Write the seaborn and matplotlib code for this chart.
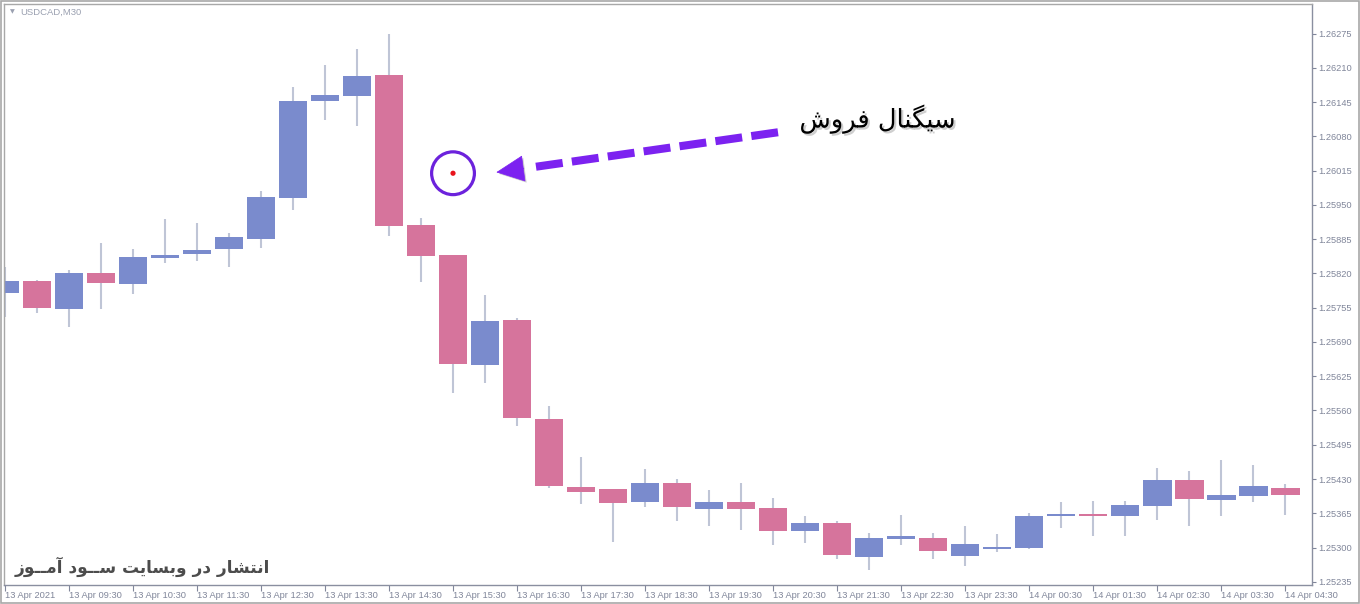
import numpy as np
import pandas as pd
import matplotlib
matplotlib.use("Agg")
import matplotlib.pyplot as plt
import seaborn as sns
from matplotlib import patheffects, transforms
from matplotlib.patches import Rectangle

# ---------------- data ----------------
opens = [1.25783, 1.25805, 1.25753, 1.25821, 1.25800, 1.25850, 1.25857, 1.25867, 1.25886, 1.25963,
         1.26147, 1.26157, 1.26196, 1.25912, 1.25855, 1.25646, 1.25732, 1.25544, 1.25415, 1.25411,
         1.25387, 1.25423, 1.25374, 1.25387, 1.25375, 1.25332, 1.25347, 1.25283, 1.25317, 1.25318,
         1.25284, 1.25298, 1.25300, 1.25359, 1.25364, 1.25359, 1.25378, 1.25428, 1.25391, 1.25397,
         1.25413]
highs = [1.25832, 1.25807, 1.25826, 1.25877, 1.25866, 1.25923, 1.25916, 1.25896, 1.25976, 1.26174,
         1.26215, 1.26245, 1.26274, 1.25925, 1.25855, 1.25779, 1.25735, 1.25569, 1.25471, 1.25411,
         1.25449, 1.25430, 1.25409, 1.25423, 1.25394, 1.25360, 1.25351, 1.25328, 1.25362, 1.25328,
         1.25341, 1.25326, 1.25365, 1.25387, 1.25389, 1.25389, 1.25450, 1.25446, 1.25466, 1.25457,
         1.25421]
lows = [1.25738, 1.25745, 1.25719, 1.25753, 1.25781, 1.25840, 1.25844, 1.25833, 1.25869, 1.25940,
        1.26111, 1.26100, 1.25891, 1.25804, 1.25594, 1.25612, 1.25531, 1.25413, 1.25383, 1.25311,
        1.25376, 1.25351, 1.25340, 1.25334, 1.25304, 1.25309, 1.25278, 1.25258, 1.25305, 1.25278,
        1.25265, 1.25292, 1.25297, 1.25338, 1.25321, 1.25322, 1.25352, 1.25341, 1.25359, 1.25387,
        1.25361]
closes = [1.25805, 1.25755, 1.25821, 1.25802, 1.25851, 1.25855, 1.25864, 1.25889, 1.25965, 1.26147,
          1.26158, 1.26194, 1.25910, 1.25853, 1.25648, 1.25730, 1.25546, 1.25416, 1.25406, 1.25385,
          1.25423, 1.25376, 1.25387, 1.25374, 1.25332, 1.25347, 1.25285, 1.25318, 1.25321, 1.25294,
          1.25307, 1.25301, 1.25360, 1.25364, 1.25359, 1.25381, 1.25428, 1.25393, 1.25400, 1.25417,
          1.25400]

x_tick_labels = ["13 Apr 2021", "13 Apr 09:30", "13 Apr 10:30", "13 Apr 11:30", "13 Apr 12:30",
                 "13 Apr 13:30", "13 Apr 14:30", "13 Apr 15:30", "13 Apr 16:30", "13 Apr 17:30",
                 "13 Apr 18:30", "13 Apr 19:30", "13 Apr 20:30", "13 Apr 21:30", "13 Apr 22:30",
                 "13 Apr 23:30", "14 Apr 00:30", "14 Apr 01:30", "14 Apr 02:30", "14 Apr 03:30",
                 "14 Apr 04:30"]
y_ticks = [1.25235, 1.25300, 1.25365, 1.25430, 1.25495, 1.25560, 1.25625, 1.25690, 1.25755,
           1.25820, 1.25885, 1.25950, 1.26015, 1.26080, 1.26145, 1.26210, 1.26275]
y_tick_labels = ["%.5f" % v for v in y_ticks]

signal_index = [14]
signal_price = [1.26010]

title_text = "USDCAD,M30"
signal_text = "سیگنال فروش"
watermark_text = "انتشار در وبسایت ســود آمــوز"

# -------- minimal Persian shaping (presentation forms + visual order) --------
FORMS = {
    "\u0627": ("\uFE8D", "\uFE8E", None, None),          # alef
    "\u0622": ("\uFE81", "\uFE82", None, None),          # alef madda
    "\u0628": ("\uFE8F", "\uFE90", "\uFE91", "\uFE92"),  # beh
    "\u062A": ("\uFE95", "\uFE96", "\uFE97", "\uFE98"),  # teh
    "\u062F": ("\uFEA9", "\uFEAA", None, None),          # dal
    "\u0631": ("\uFEAD", "\uFEAE", None, None),          # reh
    "\u0632": ("\uFEAF", "\uFEB0", None, None),          # zain
    "\u0633": ("\uFEB1", "\uFEB2", "\uFEB3", "\uFEB4"),  # seen
    "\u0634": ("\uFEB5", "\uFEB6", "\uFEB7", "\uFEB8"),  # sheen
    "\u0641": ("\uFED1", "\uFED2", "\uFED3", "\uFED4"),  # feh
    "\u0644": ("\uFEDD", "\uFEDE", "\uFEDF", "\uFEE0"),  # lam
    "\u0645": ("\uFEE1", "\uFEE2", "\uFEE3", "\uFEE4"),  # meem
    "\u0646": ("\uFEE5", "\uFEE6", "\uFEE7", "\uFEE8"),  # noon
    "\u0648": ("\uFEED", "\uFEEE", None, None),          # waw
    "\u06CC": ("\uFBFC", "\uFBFD", "\uFBFE", "\uFBFF"),  # farsi yeh
    "\u06AF": ("\uFB92", "\uFB93", "\uFB94", "\uFB95"),  # gaf
    "\u0640": ("\u0640", "\u0640", "\u0640", "\u0640"),  # tatweel
}


def shape(text):
    text = text.replace("\u064A", "\u06CC")
    out = []
    for i, ch in enumerate(text):
        if ch not in FORMS:
            out.append(ch)
            continue
        prev = text[i - 1] if i > 0 else None
        nxt = text[i + 1] if i + 1 < len(text) else None
        jp = prev in FORMS and FORMS[prev][2] is not None
        jn = nxt in FORMS and FORMS[ch][2] is not None
        iso, fin, ini, med = FORMS[ch]
        if jp and jn:
            out.append(med)
        elif jp:
            out.append(fin)
        elif jn:
            out.append(ini)
        else:
            out.append(iso)
    return "".join(out)[::-1]


# ---------------- style ----------------
sns.set_theme(style="white")
plt.rcParams["font.family"] = ["Liberation Sans", "DejaVu Sans"]

BLUE = "#7a8bcd"
PINK = "#d6749c"
WICK = "#bfc5d6"
LABEL = "#80869a"

df = pd.DataFrame({"open": opens, "high": highs, "low": lows, "close": closes})
df["x"] = np.arange(len(df))
df["bull"] = df["close"] > df["open"]
df["bottom"] = df[["open", "close"]].min(axis=1)
df["height"] = (df["close"] - df["open"]).abs()

fig = plt.figure(figsize=(13.6, 6.04), dpi=100, facecolor="white")
ax = fig.add_axes([4 / 1360, 19 / 604, 1308 / 1360, 581 / 604])
ax.set_facecolor("white")

ax.vlines(df["x"], df["low"], df["high"], color=WICK, linewidth=1.5, zorder=1)
ax.bar(df["x"], df["height"], bottom=df["bottom"], width=0.9,
       color=np.where(df["bull"], BLUE, PINK), linewidth=0, zorder=2)

ax.set_xlim(-0.03, 40.84)
ax.set_ylim(1.25229, 1.26331)

# axes ticks
ax.set_xticks(df["x"][::2])
ax.set_xticklabels(x_tick_labels, ha="left", fontsize=6.7, color=LABEL)
ax.set_yticks(y_ticks)
ax.set_yticklabels(y_tick_labels, fontsize=6.7, color=LABEL)
ax.yaxis.tick_right()
ax.tick_params(axis="x", direction="out", length=4, width=0.8, color=LABEL, pad=0.5, bottom=True)
ax.tick_params(axis="y", direction="out", length=3, width=0.8, color=LABEL, pad=1.5, right=True, left=False)
for side in ["left", "top"]:
    ax.spines[side].set_color("#a8a8a8")
    ax.spines[side].set_linewidth(1.0)
for side in ["right", "bottom"]:
    ax.spines[side].set_color("#8a8fa0")
    ax.spines[side].set_linewidth(1.0)
ax.grid(False)

# title
ax.text(0.0046, 0.986, "\u25BC", transform=ax.transAxes, fontsize=4.5, color="#9aa0b0",
        ha="left", va="center", family=["DejaVu Sans"])
ax.text(0.0122, 0.986, title_text, transform=ax.transAxes, fontsize=6.8, color="#9aa0b0",
        ha="left", va="center")

# signal marker
sig = pd.DataFrame({"x": signal_index, "y": signal_price})
sns.scatterplot(data=sig, x="x", y="y", ax=ax, s=950, facecolor="none",
                edgecolor="#6c22dc", linewidth=2.3, zorder=5, legend=False)
sns.scatterplot(data=sig, x="x", y="y", ax=ax, s=14, color="#e8141c",
                edgecolor="none", zorder=6, legend=False)
ax.set_xlabel("")
ax.set_ylabel("")

# arrow pointing at the signal (offsets in points from the signal)
sx, sy = signal_index[0], signal_price[0]
ARROW = "#7c22f0"
shadow = [patheffects.withSimplePatchShadow(offset=(1.2, -1.2), shadow_rgbFace="#777777", alpha=0.35)]
tail_tr = transforms.offset_copy(ax.transData, fig=fig, x=234, y=29.5, units="points")
shaft_end_tr = transforms.offset_copy(ax.transData, fig=fig, x=57, y=4.3, units="points")
head_base_tr = transforms.offset_copy(ax.transData, fig=fig, x=51, y=3.4, units="points")
tip_tr = transforms.offset_copy(ax.transData, fig=fig, x=31.2, y=0.7, units="points")

ax.annotate("", xy=(sx, sy), xycoords=shaft_end_tr, xytext=(sx, sy), textcoords=tail_tr,
            arrowprops=dict(arrowstyle="-", color=ARROW, linewidth=5.8,
                            linestyle=(0, (3.35, 1.15)), shrinkA=0, shrinkB=0,
                            capstyle="butt", path_effects=shadow), zorder=7)
ax.annotate("", xy=(sx, sy), xycoords=tip_tr, xytext=(sx, sy), textcoords=head_base_tr,
            arrowprops=dict(arrowstyle="-|>,head_length=1.9,head_width=0.9", color=ARROW,
                            linewidth=0.5, shrinkA=0, shrinkB=0, mutation_scale=10,
                            path_effects=shadow), zorder=7)

# texts
ax.text(0.668, 0.802, shape(signal_text), transform=ax.transAxes, fontsize=18.5, color="black",
        ha="center", va="center", family=["DejaVu Sans"],
        path_effects=[patheffects.withSimplePatchShadow(offset=(1.5, -1.5),
                                                        shadow_rgbFace="#888888", alpha=0.4)])
ax.text(0.0084, 0.031, shape(watermark_text), transform=ax.transAxes, fontsize=12.2,
        fontweight="bold", color="#4c4c4c", ha="left", va="center", family=["DejaVu Sans"])

# outer frame of the image
fig.patches.append(Rectangle((0.0005, 0.001), 0.999, 0.998, transform=fig.transFigure,
                             fill=False, edgecolor="#a8a8a8", linewidth=1.2))

fig.savefig("out.png", dpi=100, facecolor="white")
